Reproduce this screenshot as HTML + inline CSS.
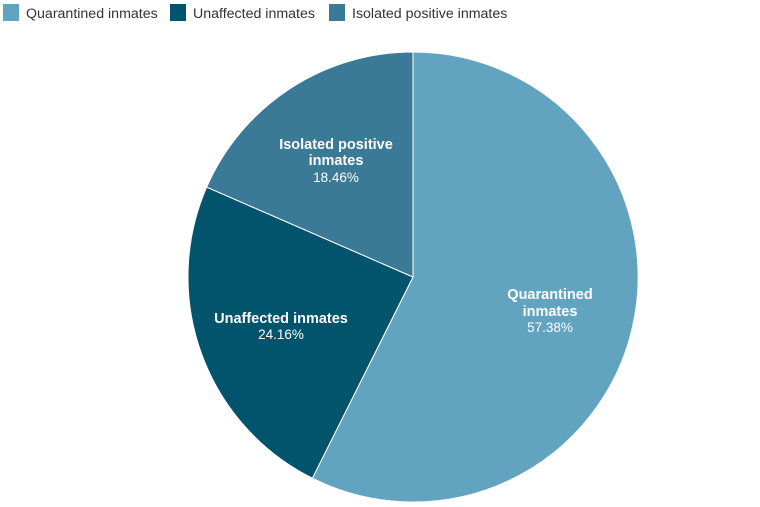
<!DOCTYPE html>
<html><head><meta charset="utf-8"><style>
html,body{margin:0;padding:0;background:#fff;width:760px;height:507px;overflow:hidden}
svg{display:block;font-family:"Liberation Sans",sans-serif}
</style></head><body>
<svg width="760" height="507" viewBox="0 0 760 507">
<rect x="3" y="4" width="16" height="17" fill="#62a3bf"/>
<text x="26" y="18" font-size="14.2" fill="#333">Quarantined inmates</text>
<rect x="170" y="4" width="16" height="17" fill="#02536c"/>
<text x="193" y="18" font-size="14.2" fill="#333">Unaffected inmates</text>
<rect x="329" y="4" width="16" height="17" fill="#3a7a96"/>
<text x="352" y="18" font-size="14.2" fill="#333">Isolated positive inmates</text>
<g stroke="#fff" stroke-width="1">
<path d="M413,277 L413,52 A225,225 0 1 1 312.4,478.2 Z" fill="#62a3bf"/>
<path d="M413,277 L312.4,478.2 A225,225 0 0 1 206.7,187.1 Z" fill="#02536c"/>
<path d="M413,277 L206.7,187.1 A225,225 0 0 1 413,52 Z" fill="#3a7a96"/>
</g>
<g fill="#fff" text-anchor="middle">
<g font-size="14.5" font-weight="bold">
<text x="336" y="149">Isolated positive</text>
<text x="336" y="165">inmates</text>
<text x="281" y="323">Unaffected inmates</text>
<text x="550" y="299">Quarantined</text>
<text x="550" y="316">inmates</text>
</g>
<g font-size="13.5">
<text x="336" y="182">18.46%</text>
<text x="281" y="339">24.16%</text>
<text x="550" y="332">57.38%</text>
</g>
</g>
</svg>
</body></html>
